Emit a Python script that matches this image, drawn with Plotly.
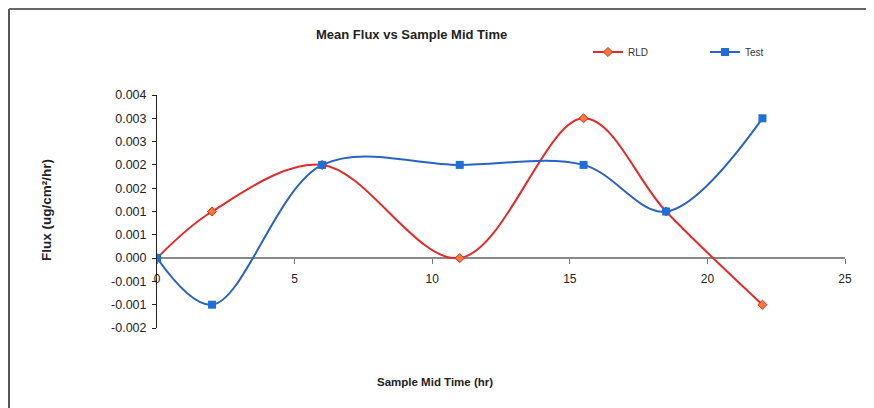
import plotly.graph_objects as go

time_hr = [0, 2, 6, 11, 15.5, 18.5, 22]
rld_flux = [0, 0.001, 0.002, 0, 0.003, 0.001, -0.001]
test_flux = [0, -0.001, 0.002, 0.002, 0.002, 0.001, 0.003]

y_tickvals = [-0.0015, -0.001, -0.0005, 0, 0.0005, 0.001, 0.0015, 0.002, 0.0025, 0.003, 0.0035]
y_ticktext = ["-0.002", "-0.001", "-0.001", "0.000", "0.001", "0.001", "0.002", "0.002", "0.003", "0.003", "0.004"]
x_tickvals = [0, 5, 10, 15, 20, 25]

FONT = "Liberation Sans, Arial, sans-serif"

# page is offset by the default 8px body margin
OFF = 8
W, H = 874 - OFF, 408 - OFF
L, R, T, B = 157 - OFF, 874 - 845, 95 - OFF, 408 - 328
pw, ph = W - L - R, H - T - B

def px(x):  # page x -> paper
    return (x - OFF - L) / pw

def py(y):  # page y -> paper
    return (H - B - (y - OFF)) / ph

fig = go.Figure()
fig.add_trace(go.Scatter(
    x=time_hr, y=rld_flux, name="RLD", mode="lines+markers", legend="legend",
    line=dict(color="#e32a2a", width=2, shape="spline", smoothing=1),
    marker=dict(symbol="diamond", size=7, color="#f07a3a", line=dict(color="#e32a2a", width=1)),
))
fig.add_trace(go.Scatter(
    x=time_hr, y=test_flux, name="Test", mode="lines+markers", legend="legend2",
    line=dict(color="#2a62c4", width=2, shape="spline", smoothing=1),
    marker=dict(symbol="square", size=8, color="#1f6fd8"),
))

leg_common = dict(orientation="h", xanchor="left", yanchor="middle",
                  font=dict(size=10, color="#333"), itemwidth=30,
                  bgcolor="rgba(0,0,0,0)")

fig.update_layout(
    width=W, height=H,
    margin=dict(l=L, r=R, t=T, b=B, autoexpand=False),
    paper_bgcolor="white", plot_bgcolor="white",
    font=dict(family=FONT, size=11, color="#222"),
    showlegend=True,
    legend=dict(x=px(588), y=py(52), **leg_common),
    legend2=dict(x=px(705), y=py(52), **leg_common),
    xaxis=dict(range=[0, 25], tickvals=x_tickvals, ticks="outside", ticklen=5,
               tickcolor="#777", showline=False, showgrid=False, zeroline=False,
               anchor="free", position=0.3, ticklabelstandoff=4,
               tickfont=dict(size=12, color="#222")),
    yaxis=dict(range=[-0.0015, 0.0035], tickvals=y_tickvals, ticktext=y_ticktext,
               ticks="outside", ticklen=4, tickcolor="#222", showline=True,
               linecolor="#222", linewidth=1, showgrid=False, ticklabelstandoff=3,
               zeroline=True, zerolinecolor="#888", zerolinewidth=2,
               tickfont=dict(size=12.5, color="#222")),
)

fig.add_annotation(text="<b>Mean Flux vs Sample Mid Time</b>", xref="paper", yref="paper",
                   x=px(411), y=py(34), xanchor="center", yanchor="middle",
                   showarrow=False, font=dict(size=13, color="#222"))
fig.add_annotation(text="<b>Sample Mid Time (hr)</b>", xref="paper", yref="paper",
                   x=px(435), y=py(382), xanchor="center", yanchor="middle",
                   showarrow=False, font=dict(size=11.5, color="#222"))
fig.add_annotation(text="<b>Flux (ug/cm²/hr)</b>", xref="paper", yref="paper",
                   x=px(46), y=py(210), xanchor="center", yanchor="middle",
                   showarrow=False, textangle=-90,
                   font=dict(size=13.5, color="#222"))

fig.add_shape(type="line", xref="paper", yref="paper", x0=px(9), x1=px(880), y0=py(9), y1=py(9),
              line=dict(color="#666", width=2))
fig.add_shape(type="line", xref="paper", yref="paper", x0=px(9), x1=px(9), y0=py(9), y1=py(410),
              line=dict(color="#555", width=2))

fig.write_html("out.html")
